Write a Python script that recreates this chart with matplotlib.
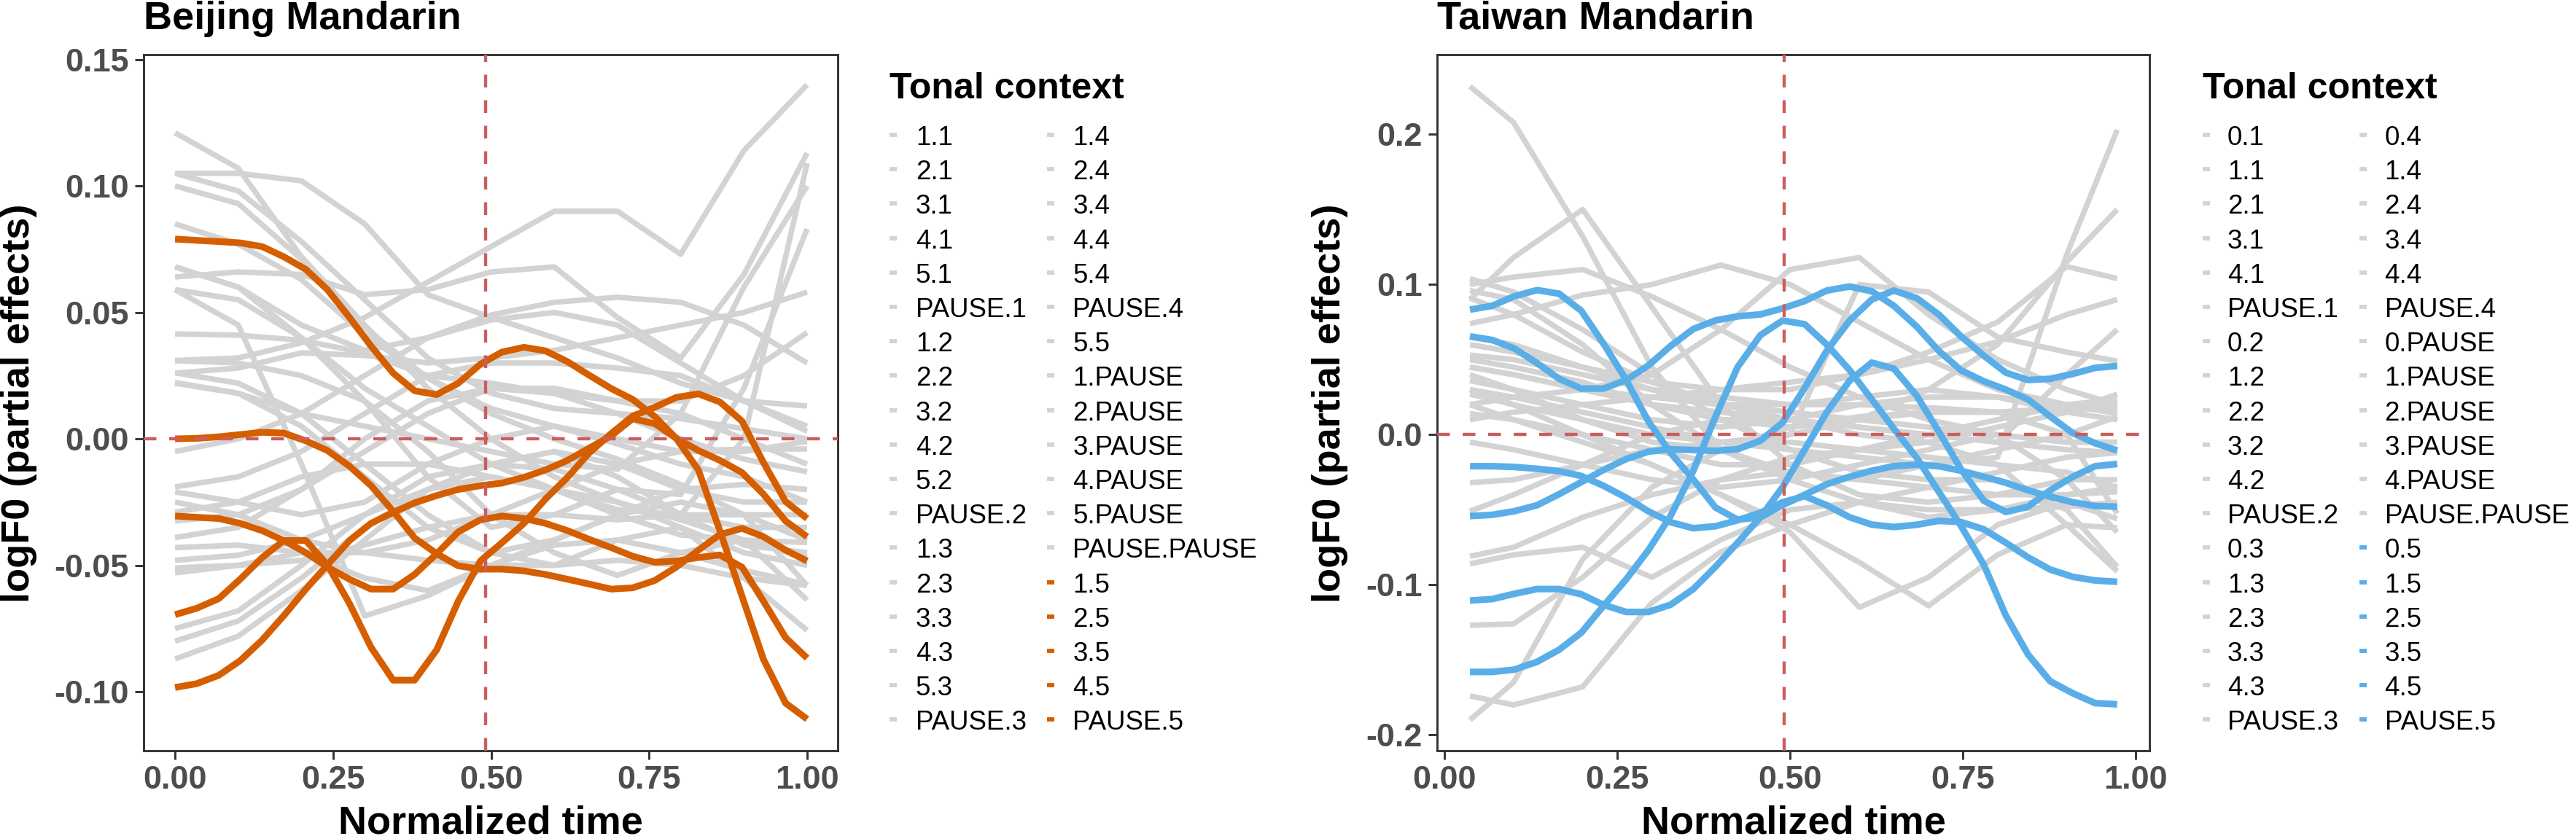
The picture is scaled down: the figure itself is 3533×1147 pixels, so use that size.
import matplotlib
matplotlib.use("Agg")
import matplotlib.pyplot as plt
from matplotlib.lines import Line2D

plt.rcParams["font.family"] = ["Liberation Sans", "DejaVu Sans"]

W, H, DPI = 3533, 1147, 300

GRAY = "#D3D3D3"
ORANGE = "#D55E00"
BLUE = "#5AAEE8"
REF = "#CD5C5C"

# ---------------- Beijing Mandarin ----------------
bj_gray_labels = ["1.1", "2.1", "3.1", "4.1", "5.1", "PAUSE.1", "1.2", "2.2", "3.2", "4.2",
                  "5.2", "PAUSE.2", "1.3", "2.3", "3.3", "4.3", "5.3", "PAUSE.3", "1.4", "2.4",
                  "3.4", "4.4", "5.4", "PAUSE.4", "5.5", "1.PAUSE", "2.PAUSE", "3.PAUSE",
                  "4.PAUSE", "5.PAUSE", "PAUSE.PAUSE"]
bj_gray_time = [0.0, 0.1, 0.2, 0.3, 0.4, 0.5, 0.6, 0.7, 0.8, 0.9, 1.0]
bj_gray_y = [
    [0.121, 0.107, 0.072, 0.045, 0.020, 0.000, -0.015, -0.025, -0.032, -0.040, -0.047],
    [0.105, 0.105, 0.102, 0.085, 0.057, 0.048, 0.040, 0.032, 0.022, 0.015, 0.013],
    [0.100, 0.093, 0.071, 0.044, 0.024, 0.010, 0.000, -0.008, -0.018, -0.030, -0.058],
    [0.085, 0.077, 0.063, 0.041, 0.024, 0.012, 0.005, -0.002, -0.010, -0.015, -0.025],
    [0.031, 0.032, 0.038, 0.048, 0.062, 0.076, 0.090, 0.090, 0.073, 0.114, 0.140],
    [0.068, 0.060, 0.040, 0.015, -0.015, -0.035, -0.030, -0.020, -0.022, 0.020, 0.083],
    [0.064, 0.066, 0.065, 0.057, 0.059, 0.066, 0.068, 0.048, 0.032, 0.065, 0.113],
    [0.059, 0.055, 0.040, 0.020, 0.005, -0.010, -0.020, -0.028, -0.030, 0.000, 0.109],
    [0.022, 0.018, 0.010, 0.005, 0.000, -0.005, -0.010, -0.012, 0.010, 0.060, 0.100],
    [0.026, 0.028, 0.034, 0.033, 0.030, 0.032, 0.035, 0.040, 0.045, 0.050, 0.058],
    [0.0415, 0.041, 0.039, 0.034, 0.025, 0.022, 0.018, 0.015, 0.015, 0.025, 0.042],
    [0.068, 0.060, 0.045, 0.035, 0.040, 0.049, 0.054, 0.056, 0.054, 0.045, 0.030],
    [-0.005, 0.000, 0.010, 0.025, 0.040, 0.047, 0.050, 0.045, 0.030, 0.015, 0.005],
    [-0.019, -0.015, -0.005, 0.010, 0.025, 0.030, 0.030, 0.028, 0.025, 0.015, 0.003],
    [-0.021, -0.025, -0.030, -0.025, -0.010, 0.000, 0.005, 0.000, -0.005, -0.005, -0.001],
    [-0.025, -0.030, -0.040, -0.045, -0.040, -0.030, -0.020, -0.010, -0.005, -0.004, -0.004],
    [-0.0325, -0.030, -0.020, -0.005, 0.010, 0.020, 0.020, 0.015, 0.010, 0.000, -0.010],
    [-0.039, -0.035, -0.020, 0.000, 0.015, 0.020, 0.018, 0.010, 0.000, -0.008, -0.013],
    [-0.043, -0.042, -0.045, -0.055, -0.060, -0.050, -0.040, -0.030, -0.020, -0.018, -0.020],
    [-0.048, -0.046, -0.040, -0.030, -0.020, -0.010, -0.005, -0.010, -0.020, -0.025, -0.025],
    [-0.051, -0.050, -0.048, -0.042, -0.035, -0.030, -0.030, -0.032, -0.030, -0.030, -0.030],
    [-0.075, -0.068, -0.050, -0.030, -0.015, -0.010, -0.012, -0.020, -0.030, -0.035, -0.035],
    [-0.080, -0.072, -0.055, -0.035, -0.020, -0.015, -0.020, -0.030, -0.038, -0.040, -0.041],
    [-0.087, -0.078, -0.060, -0.040, -0.020, -0.010, -0.005, -0.015, -0.030, -0.042, -0.045],
    [0.059, 0.045, -0.010, -0.070, -0.062, -0.050, -0.042, -0.040, -0.045, -0.052, -0.0575],
    [0.0309, 0.030, 0.025, 0.015, -0.005, -0.030, -0.045, -0.054, -0.045, -0.040, -0.0637],
    [0.0261, 0.022, 0.010, -0.010, -0.030, -0.045, -0.050, -0.040, -0.035, -0.055, -0.0757],
    [0.0223, 0.018, 0.005, -0.015, -0.035, -0.045, -0.040, -0.030, -0.025, -0.030, -0.040],
    [0.105, 0.098, 0.078, 0.055, 0.032, 0.018, 0.012, 0.010, 0.008, 0.004, 0.000],
    [-0.053, -0.050, -0.045, -0.045, -0.048, -0.050, -0.050, -0.048, -0.050, -0.055, -0.058],
    [-0.029, -0.025, -0.015, -0.010, -0.010, -0.015, -0.020, -0.025, -0.035, -0.045, -0.050],
]

bj_hi_labels = ["1.5", "2.5", "3.5", "4.5", "PAUSE.5"]
bj_hi_time = [0.000, 0.034, 0.069, 0.103, 0.138, 0.172, 0.207, 0.241, 0.276, 0.310,
              0.345, 0.379, 0.414, 0.448, 0.483, 0.517, 0.552, 0.586, 0.621, 0.655,
              0.690, 0.724, 0.759, 0.793, 0.828, 0.862, 0.897, 0.931, 0.966, 1.000]
bj_1_5 = [0.079, 0.0785, 0.078, 0.0775, 0.076, 0.072, 0.067, 0.059, 0.048, 0.0367,
          0.026, 0.019, 0.0175, 0.022, 0.0295, 0.0343, 0.0362, 0.0348, 0.0305, 0.0252,
          0.0199, 0.0156, 0.0088, 0.0002, -0.0123, -0.0363, -0.0622, -0.0872, -0.1045, -0.1108]
bj_2_5 = [0.000, 0.0002, 0.0008, 0.0017, 0.0026, 0.0023, -0.0008, -0.0046, -0.0108, -0.0185,
          -0.0286, -0.0392, -0.0454, -0.0502, -0.0515, -0.0515, -0.0522, -0.0536, -0.0555, -0.0574,
          -0.0594, -0.0589, -0.056, -0.0507, -0.044, -0.0378, -0.0354, -0.0387, -0.044, -0.0483]
bj_3_5 = [-0.0305, -0.031, -0.0315, -0.0334, -0.0363, -0.0402, -0.045, -0.0507, -0.0555, -0.0594,
          -0.0594, -0.0536, -0.0454, -0.0368, -0.032, -0.0305, -0.0315, -0.0334, -0.0363, -0.0397,
          -0.043, -0.0464, -0.0488, -0.0483, -0.0469, -0.0459, -0.0507, -0.0642, -0.0786, -0.0867]
bj_4_5 = [-0.0695, -0.067, -0.0632, -0.0555, -0.0469, -0.0402, -0.0402, -0.0498, -0.0651, -0.0824,
          -0.0954, -0.0954, -0.0834, -0.0642, -0.0483, -0.0411, -0.0334, -0.0238, -0.0152, -0.0056,
          0.0021, 0.009, 0.0125, 0.0164, 0.0178, 0.0146, 0.007, -0.0094, -0.0248, -0.0315]
bj_p_5 = [-0.0983, -0.0968, -0.0935, -0.0877, -0.0795, -0.0699, -0.0594, -0.0498, -0.0402, -0.0334,
          -0.0291, -0.0253, -0.0224, -0.020, -0.0185, -0.0175, -0.0152, -0.0123, -0.0085, -0.0037,
          0.0012, 0.008, 0.006, 0.0002, -0.0046, -0.0085, -0.0133, -0.0219, -0.0325, -0.0387]

# ---------------- Taiwan Mandarin ----------------
tw_gray_labels = ["0.1", "1.1", "2.1", "3.1", "4.1", "PAUSE.1", "0.2", "1.2", "2.2", "3.2",
                  "4.2", "PAUSE.2", "0.3", "1.3", "2.3", "3.3", "4.3", "PAUSE.3", "0.4", "1.4",
                  "2.4", "3.4", "4.4", "PAUSE.4", "0.PAUSE", "1.PAUSE", "2.PAUSE", "3.PAUSE",
                  "4.PAUSE", "PAUSE.PAUSE"]
tw_gray_time = [0.037, 0.1, 0.2, 0.3, 0.4, 0.5, 0.6, 0.7, 0.8, 0.9, 0.973]
tw_gray_y = [
    [0.232, 0.208, 0.132, 0.045, -0.010, -0.025, -0.030, -0.020, -0.010, 0.000, 0.012],
    [0.090, 0.118, 0.150, 0.085, 0.020, -0.020, -0.040, -0.045, -0.040, -0.030, -0.030],
    [0.100, 0.105, 0.110, 0.092, 0.070, 0.045, 0.025, 0.010, 0.000, -0.005, -0.005],
    [0.074, 0.080, 0.093, 0.100, 0.113, 0.100, 0.075, 0.050, 0.030, 0.020, 0.015],
    [0.020, 0.025, 0.030, 0.040, 0.070, 0.110, 0.118, 0.080, 0.050, 0.030, 0.020],
    [0.040, 0.030, 0.010, -0.005, -0.010, 0.000, 0.100, 0.095, 0.065, 0.055, 0.049],
    [0.030, 0.025, 0.015, 0.005, -0.005, -0.010, -0.015, -0.020, -0.015, 0.120, 0.203],
    [0.050, 0.045, 0.035, 0.020, 0.010, 0.005, 0.010, 0.030, 0.060, 0.115, 0.150],
    [0.010, 0.015, 0.020, 0.025, 0.030, 0.035, 0.040, 0.055, 0.075, 0.112, 0.104],
    [0.060, 0.055, 0.045, 0.035, 0.030, 0.030, 0.040, 0.050, 0.062, 0.080, 0.090],
    [0.045, 0.040, 0.030, 0.020, 0.015, 0.010, 0.005, 0.000, -0.005, 0.040, 0.070],
    [0.096, 0.090, 0.060, 0.020, -0.010, -0.030, -0.045, -0.055, -0.050, -0.040, -0.035],
    [-0.190, -0.165, -0.083, -0.035, -0.010, 0.005, 0.012, 0.015, 0.015, 0.018, 0.020],
    [-0.174, -0.180, -0.168, -0.112, -0.078, -0.060, -0.045, -0.035, -0.025, -0.015, -0.012],
    [-0.127, -0.126, -0.095, -0.055, -0.030, -0.015, -0.010, -0.005, 0.005, 0.015, 0.027],
    [0.030, 0.020, 0.000, -0.020, -0.040, -0.065, -0.115, -0.095, -0.060, -0.045, -0.056],
    [0.020, 0.010, -0.005, -0.020, -0.040, -0.060, -0.085, -0.114, -0.080, -0.060, -0.062],
    [0.104, 0.095, 0.070, 0.040, 0.010, -0.010, -0.025, -0.030, -0.030, -0.050, -0.088],
    [0.091, 0.080, 0.055, 0.035, 0.020, 0.010, 0.000, -0.005, -0.020, -0.060, -0.091],
    [0.065, 0.060, 0.045, 0.030, 0.020, 0.015, 0.010, 0.005, 0.000, -0.030, -0.065],
    [0.053, 0.050, 0.040, 0.030, 0.025, 0.020, 0.020, 0.018, 0.015, 0.000, -0.0526],
    [0.045, 0.040, 0.030, 0.025, 0.020, 0.020, 0.025, 0.030, 0.025, 0.015, 0.010],
    [0.036, 0.030, 0.020, 0.010, 0.005, 0.010, 0.020, 0.025, 0.025, 0.020, 0.014],
    [0.027, 0.020, 0.010, 0.000, -0.005, 0.000, 0.010, 0.015, 0.015, 0.017, 0.017],
    [0.014, 0.010, 0.000, -0.010, -0.020, -0.020, -0.010, 0.000, 0.010, 0.020, 0.0235],
    [-0.005, -0.010, -0.020, -0.030, -0.035, -0.030, -0.020, -0.010, 0.000, -0.005, -0.005],
    [-0.032, -0.030, -0.020, -0.010, -0.005, -0.005, -0.010, -0.015, -0.020, -0.025, -0.035],
    [-0.051, -0.040, -0.020, 0.000, 0.010, 0.010, 0.005, 0.000, -0.005, -0.010, -0.012],
    [-0.081, -0.075, -0.055, -0.040, -0.030, -0.025, -0.030, -0.035, -0.040, -0.040, -0.038],
    [-0.086, -0.080, -0.075, -0.095, -0.070, -0.050, -0.045, -0.050, -0.050, -0.048, -0.045],
]

tw_hi_labels = ["0.5", "1.5", "2.5", "3.5", "4.5", "PAUSE.5"]
tw_hi_time = [0.037, 0.069, 0.101, 0.134, 0.166, 0.198, 0.230, 0.263, 0.295, 0.327,
              0.360, 0.392, 0.424, 0.457, 0.489, 0.521, 0.553, 0.586, 0.618, 0.650,
              0.683, 0.715, 0.747, 0.780, 0.812, 0.844, 0.876, 0.909, 0.941, 0.973]
tw_0_5 = [0.0833, 0.0858, 0.0922, 0.0963, 0.0939, 0.0825, 0.0607, 0.0364, 0.0089, -0.0121,
          -0.0299, -0.0485, -0.0566, -0.055, -0.047, -0.040, -0.033, -0.028, -0.024, -0.021,
          -0.020, -0.021, -0.024, -0.028, -0.032, -0.037, -0.0413, -0.045, -0.0475, -0.048]
tw_1_5 = [0.0655, 0.0631, 0.0574, 0.0477, 0.0372, 0.0307, 0.0307, 0.0364, 0.0461, 0.059,
          0.0704, 0.0761, 0.0788, 0.0801, 0.0841, 0.089, 0.096, 0.0987, 0.0955, 0.0858,
          0.072, 0.0558, 0.0429, 0.0356, 0.030, 0.0235, 0.0121, 0.001, -0.0057, -0.0105]
tw_2_5 = [-0.021, -0.021, -0.0215, -0.0227, -0.0243, -0.0275, -0.034, -0.042, -0.051, -0.0583,
          -0.0623, -0.061, -0.057, -0.052, -0.045, -0.041, -0.047, -0.055, -0.0599, -0.0615,
          -0.060, -0.0574, -0.0582, -0.063, -0.072, -0.0817, -0.0898, -0.0947, -0.0971, -0.098]
tw_3_5 = [-0.0542, -0.0534, -0.051, -0.047, -0.0396, -0.0316, -0.0235, -0.0162, -0.0113, -0.0097,
          -0.0102, -0.0108, -0.0097, -0.004, 0.008, 0.031, 0.056, 0.076, 0.090, 0.096,
          0.091, 0.080, 0.0655, 0.0526, 0.0413, 0.0364, 0.0372, 0.0405, 0.0445, 0.0458]
tw_4_5 = [-0.1105, -0.1095, -0.106, -0.1028, -0.1028, -0.1063, -0.1133, -0.1181, -0.1181, -0.1133,
          -0.1028, -0.088, -0.072, -0.055, -0.035, -0.010, 0.015, 0.036, 0.048, 0.044,
          0.026, 0.002, -0.023, -0.044, -0.0515, -0.048, -0.037, -0.028, -0.021, -0.0195]
tw_p_5 = [-0.158, -0.158, -0.1565, -0.1513, -0.1432, -0.1319, -0.1141, -0.0963, -0.0769, -0.0542,
          -0.024, 0.012, 0.045, 0.0663, 0.076, 0.0736, 0.060, 0.043, 0.0235, 0.004,
          -0.0154, -0.038, -0.0607, -0.0866, -0.1205, -0.1464, -0.1642, -0.1723, -0.1788, -0.1796]

boundary = 0.491


def px(x):
    return x / W


def py(y):
    return 1 - y / H


fig = plt.figure(figsize=(W / DPI, H / DPI), dpi=DPI)


def panel(left, right, title, gray_t, gray_y, hi_t, hi_y, hi_col, xlim, ylim,
          yticks, yticklabels, ylab_x):
    ax = fig.add_axes([px(left), py(1030), px(right - left), (1030 - 75) / H])
    for yy in gray_y:
        ax.plot(gray_t, yy, color=GRAY, lw=1.8, solid_capstyle="butt",
                solid_joinstyle="round", zorder=1)
    for yy in hi_y:
        ax.plot(hi_t, yy, color=hi_col, lw=2.2, solid_capstyle="butt",
                solid_joinstyle="round", zorder=2)
    ax.axhline(0, color=REF, lw=1.05, ls=(0, (4.0, 4.0)), zorder=3)
    ax.axvline(boundary, color=REF, lw=1.05, ls=(0, (4.0, 4.0)), zorder=3)
    ax.set_xlim(xlim)
    ax.set_ylim(ylim)
    ax.set_xticks([0, 0.25, 0.5, 0.75, 1.0])
    ax.set_xticklabels(["0.00", "0.25", "0.50", "0.75", "1.00"], fontweight="bold")
    ax.set_yticks(yticks)
    ax.set_yticklabels(yticklabels, fontweight="bold")
    ax.tick_params(length=2.9, width=0.7, color="#333333", labelsize=10.8,
                   labelcolor="#4D4D4D", pad=2.0)
    for s in ax.spines.values():
        s.set_color("#333333")
        s.set_linewidth(0.7)
    fig.text(px(left), py(40), title, fontsize=13, fontweight="bold",
             ha="left", va="baseline")
    fig.text(px((left + right) / 2), py(1143), "Normalized time", fontsize=13,
             fontweight="bold", ha="center", va="baseline")
    fig.text(px(ylab_x), py(553), "logF0 (partial effects)", fontsize=13,
             fontweight="bold", rotation=90, rotation_mode="anchor",
             ha="center", va="baseline")
    return ax


def legend(x_key, x_lab, labels, colors):
    fig.text(px(x_key), py(135), "Tonal context", fontsize=12, fontweight="bold",
             ha="left", va="baseline")
    for i, (lab, col) in enumerate(zip(labels, colors)):
        c, r = divmod(i, 18)
        yc = 185 + 47.2 * r
        kx = x_key + 215.7 * c
        fig.add_artist(Line2D([px(kx), px(kx + 10)], [py(yc), py(yc)],
                              transform=fig.transFigure, color=col, lw=1.4,
                              solid_capstyle="butt"))
        fig.text(px(x_lab + 215.5 * c), py(yc + 14), lab, fontsize=8.8,
                 ha="left", va="baseline")


panel(197, 1149, "Beijing Mandarin", bj_gray_time, bj_gray_y, bj_hi_time,
      [bj_1_5, bj_2_5, bj_3_5, bj_4_5, bj_p_5], ORANGE,
      (-0.0497, 1.0485), (-0.1233, 0.1519),
      [-0.10, -0.05, 0.0, 0.05, 0.10, 0.15],
      ["-0.10", "-0.05", "0.00", "0.05", "0.10", "0.15"], 40)
legend(1220, 1256, bj_gray_labels + bj_hi_labels,
       [GRAY] * len(bj_gray_labels) + [ORANGE] * len(bj_hi_labels))

panel(1971, 2948, "Taiwan Mandarin", tw_gray_time, tw_gray_y, tw_hi_time,
      [tw_0_5, tw_1_5, tw_2_5, tw_3_5, tw_4_5, tw_p_5], BLUE,
      (-0.0105, 1.0196), (-0.2105, 0.2531),
      [-0.2, -0.1, 0.0, 0.1, 0.2],
      ["-0.2", "-0.1", "0.0", "0.1", "0.2"], 1838)
legend(3020.6, 3055, tw_gray_labels + tw_hi_labels,
       [GRAY] * len(tw_gray_labels) + [BLUE] * len(tw_hi_labels))

fig.savefig("out.png", dpi=DPI)
